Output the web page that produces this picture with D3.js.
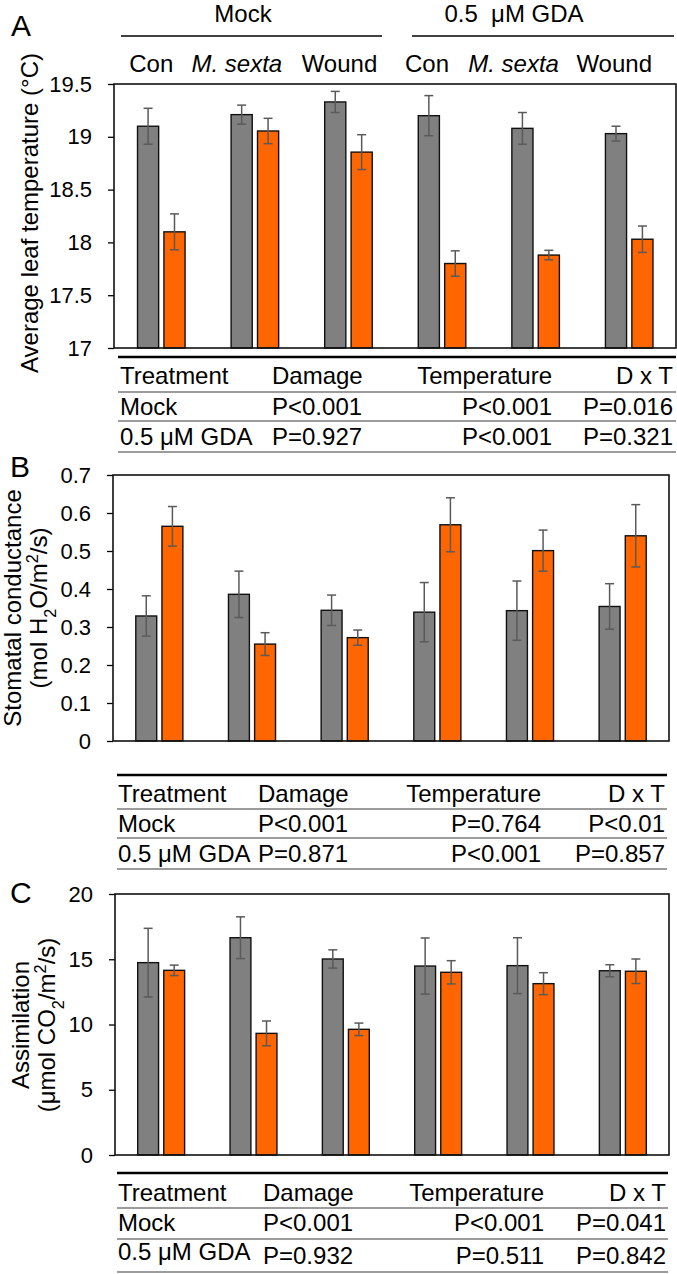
<!DOCTYPE html>
<html><head><meta charset="utf-8">
<script src="https://cdn.jsdelivr.net/npm/d3@7"></script>
<style>
html,body{margin:0;padding:0;background:#fff;}
svg text{font-family:"Liberation Sans",Arial,Helvetica,sans-serif;fill:#000;}
</style></head>
<body>
<svg id="chart" width="677" height="1274"></svg>
<script>
// ---------- data ----------
const groups = ["Con", "M. sexta", "Wound", "Con", "M. sexta", "Wound"];
const groupItalic = [false, true, false, false, true, false];
const treatments = ["Mock", "0.5  μM GDA"];
const series = ["gray", "orange"];

const tempGray      = [19.10, 19.21, 19.33, 19.20, 19.08, 19.03];
const tempGrayErr   = [0.17, 0.09, 0.10, 0.19, 0.15, 0.07];
const tempOrange    = [18.10, 19.055, 18.855, 17.80, 17.88, 18.03];
const tempOrangeErr = [0.17, 0.12, 0.165, 0.12, 0.045, 0.125];
const tempTicks = [17, 17.5, 18, 18.5, 19, 19.5];

const condGray      = [0.329, 0.386, 0.344, 0.339, 0.343, 0.354];
const condGrayErr   = [0.053, 0.061, 0.040, 0.078, 0.078, 0.060];
const condOrange    = [0.565, 0.255, 0.272, 0.569, 0.501, 0.540];
const condOrangeErr = [0.052, 0.030, 0.020, 0.071, 0.054, 0.082];
const condTicks = [0, 0.1, 0.2, 0.3, 0.4, 0.5, 0.6, 0.7];

const assimGray      = [14.74, 16.65, 15.02, 14.48, 14.51, 14.12];
const assimGrayErr   = [2.63, 1.60, 0.70, 2.15, 2.14, 0.46];
const assimOrange    = [14.15, 9.32, 9.63, 14.00, 13.13, 14.08];
const assimOrangeErr = [0.40, 0.95, 0.48, 0.89, 0.84, 0.94];
const assimTicks = [0, 5, 10, 15, 20];

const tableHeader = ["Treatment", "Damage", "Temperature", "D x T"];
const statsA = [["Mock", "P<0.001", "P<0.001", "P=0.016"],
                ["0.5 μM GDA", "P=0.927", "P<0.001", "P=0.321"]];
const statsB = [["Mock", "P<0.001", "P=0.764", "P<0.01"],
                ["0.5 μM GDA", "P=0.871", "P<0.001", "P=0.857"]];
const statsC = [["Mock", "P<0.001", "P<0.001", "P=0.041"],
                ["0.5 μM GDA", "P=0.932", "P=0.511", "P=0.842"]];

// ---------- style ----------
const colors = {gray: "#808080", orange: "#FF6600"};
const errColor = "#5a5a5a";
const FS = 24, TICKFS = 22, LETTERFS = 30;

const svg = d3.select("#chart");

function drawPanel(cfg) {
  const {left, right, top, bottom, domain, ticks, fmt, gray, grayErr, orange, orangeErr, bandLeft} = cfg;
  const x0 = d3.scaleBand().domain(d3.range(groups.length)).range([bandLeft ?? left, right]).paddingInner(0).paddingOuter(0);
  const pairHalf = x0.bandwidth() * 0.254;
  const y = d3.scaleLinear().domain(domain).range([bottom, top]);
  const g = svg.append("g");

  const ax = g.append("g").attr("transform", `translate(${left},0)`)
    .call(d3.axisLeft(y).tickValues(ticks).tickFormat(fmt).tickSize(6).tickSizeOuter(0).tickPadding(16));
  ax.select(".domain").remove();
  ax.selectAll("line").attr("stroke", "#000").attr("stroke-width", 1.3);
  ax.selectAll("text").style("font-size", TICKFS + "px").attr("fill", "#000")
    .style("font-family", '"Liberation Sans",Arial,sans-serif');

  const data = d3.range(groups.length).map(i => ({
    i,
    vals: [{s: "gray", v: gray[i], e: grayErr[i]}, {s: "orange", v: orange[i], e: orangeErr[i]}]
  }));

  const grp = g.selectAll("g.grp").data(data).join("g").attr("class", "grp");
  grp.each(function(d) {
    const c = x0(d.i) + x0.bandwidth() / 2;
    const x1 = d3.scaleBand().domain(series).range([c - pairHalf, c + pairHalf]).paddingInner(0.2).paddingOuter(0);
    const sel = d3.select(this);
    sel.selectAll("rect").data(d.vals).join("rect")
      .attr("x", v => x1(v.s))
      .attr("width", x1.bandwidth())
      .attr("y", v => y(v.v))
      .attr("height", v => y(domain[0]) - y(v.v))
      .attr("fill", v => colors[v.s])
      .attr("stroke", "#111").attr("stroke-width", 1.4);
    const eb = sel.selectAll("g.eb").data(d.vals).join("g").attr("class", "eb")
      .attr("stroke", errColor).attr("stroke-width", 1.5).attr("fill", "none");
    const cx = v => x1(v.s) + x1.bandwidth() / 2;
    eb.append("line").attr("x1", cx).attr("x2", cx)
      .attr("y1", v => y(v.v + v.e)).attr("y2", v => y(v.v - v.e));
    eb.append("line").attr("x1", v => cx(v) - 4.5).attr("x2", v => cx(v) + 4.5)
      .attr("y1", v => y(v.v + v.e)).attr("y2", v => y(v.v + v.e));
    eb.append("line").attr("x1", v => cx(v) - 4.5).attr("x2", v => cx(v) + 4.5)
      .attr("y1", v => y(v.v - v.e)).attr("y2", v => y(v.v - v.e));
  });

  g.append("rect").attr("x", left).attr("y", top).attr("width", right - left).attr("height", bottom - top)
    .attr("fill", "none").attr("stroke", "#111").attr("stroke-width", 1.6);
  return {x0, y};
}

function drawTable(rows, t) {
  const g = svg.append("g").style("font-size", FS + "px");
  g.append("line").attr("x1", t.x1).attr("x2", t.x2).attr("y1", t.topLine).attr("y2", t.topLine)
    .attr("stroke", "#000").attr("stroke-width", 2.4);
  const allRows = [tableHeader].concat(rows);
  allRows.forEach((r, ri) => {
    const by = t.base[ri];
    const byP = (t.baseP && t.baseP[ri]) || by;
    g.append("text").attr("x", t.c0).attr("y", by).attr("text-anchor", "start").text(r[0]);
    g.append("text").attr("x", t.c1).attr("y", byP).attr("text-anchor", "start").text(r[1]);
    g.append("text").attr("x", t.c2).attr("y", byP).attr("text-anchor", "end").text(r[2]);
    g.append("text").attr("x", t.c3).attr("y", byP).attr("text-anchor", "end").text(r[3]);
    g.append("line").attr("x1", t.x1).attr("x2", t.x2).attr("y1", t.lines[ri]).attr("y2", t.lines[ri])
      .attr("stroke", "#7a7a7a").attr("stroke-width", 1.5);
  });
}

function letter(txt, x, y) {
  svg.append("text").attr("x", x).attr("y", y).style("font-size", LETTERFS + "px").text(txt);
}

function yTitle(lines, cy) {
  lines.forEach(l => {
    const t = svg.append("text").attr("transform", `translate(${l.x},${cy}) rotate(-90)`)
      .attr("text-anchor", "middle").style("font-size", FS + "px");
    l.parts.forEach(p => {
      const ts = t.append("tspan").text(p.t);
      if (p.sub) ts.attr("baseline-shift", "sub").style("font-size", (FS * 0.68) + "px");
      if (p.sup) ts.attr("baseline-shift", "super").style("font-size", (FS * 0.68) + "px");
    });
  });
}

// ---------- Panel A ----------
const A = drawPanel({left: 114, right: 676, top: 84, bottom: 348, bandLeft: 114.5,
  domain: [17, 19.5], ticks: tempTicks, fmt: d3.format("~g"),
  gray: tempGray, grayErr: tempGrayErr, orange: tempOrange, orangeErr: tempOrangeErr});

letter("A", 11, 36);
const hdrLines = [[121, 382], [412, 674]];
const hdrCenters = [243, 514];
treatments.forEach((t, i) => {
  const [a, b] = hdrLines[i];
  svg.append("text").attr("x", hdrCenters[i]).attr("y", 22).attr("text-anchor", "middle")
    .style("font-size", FS + "px").style("white-space", "pre").attr("xml:space", "preserve").text(t);
  svg.append("line").attr("x1", a).attr("x2", b).attr("y1", 36).attr("y2", 36)
    .attr("stroke", "#000").attr("stroke-width", 1.4);
});
const subOffset = [-10, -18, -9, -15, -22, -15];
groups.forEach((gname, i) => {
  svg.append("text").attr("x", A.x0(i) + A.x0.bandwidth() / 2 + subOffset[i]).attr("y", 72)
    .attr("text-anchor", "middle").style("font-size", FS + "px")
    .style("font-style", groupItalic[i] ? "italic" : "normal").text(gname);
});
yTitle([{x: 38, parts: [{t: "Average leaf temperature (°C)"}]}], 213);

drawTable(statsA, {x1: 118, x2: 676, topLine: 357, base: [384, 415, 445], lines: [392, 421, 452],
  c0: 120, c1: 272, c2: 552, c3: 673});

// ---------- Panel B ----------
drawPanel({left: 113, right: 669, top: 475, bottom: 741,
  domain: [0, 0.7], ticks: condTicks, fmt: d3.format(".1~f"),
  gray: condGray, grayErr: condGrayErr, orange: condOrange, orangeErr: condOrangeErr});
letter("B", 10, 477);
yTitle([{x: 21, parts: [{t: "Stomatal conductance"}]},
        {x: 47, parts: [{t: "(mol H"}, {t: "2", sub: true}, {t: "O/m"}, {t: "2", sup: true}, {t: "/s)"}]}], 608);
drawTable(statsB, {x1: 117, x2: 667, topLine: 775, base: [802, 832, 862], lines: [809, 838, 869],
  c0: 118, c1: 258, c2: 541, c3: 665});

// ---------- Panel C ----------
drawPanel({left: 115, right: 669, top: 894, bottom: 1155,
  domain: [0, 20], ticks: assimTicks, fmt: d3.format("d"),
  gray: assimGray, grayErr: assimGrayErr, orange: assimOrange, orangeErr: assimOrangeErr});
letter("C", 10, 903);
yTitle([{x: 29, parts: [{t: "Assimilation"}]},
        {x: 55, parts: [{t: "(μmol CO"}, {t: "2", sub: true}, {t: "/m"}, {t: "2", sup: true}, {t: "/s)"}]}], 1025);
drawTable(statsC, {x1: 117, x2: 668, topLine: 1173, base: [1201, 1231, 1260], baseP: [1201, 1231, 1264],
  lines: [1208, 1239, 1272], c0: 118, c1: 263, c2: 544, c3: 666});
</script>
</body></html>
